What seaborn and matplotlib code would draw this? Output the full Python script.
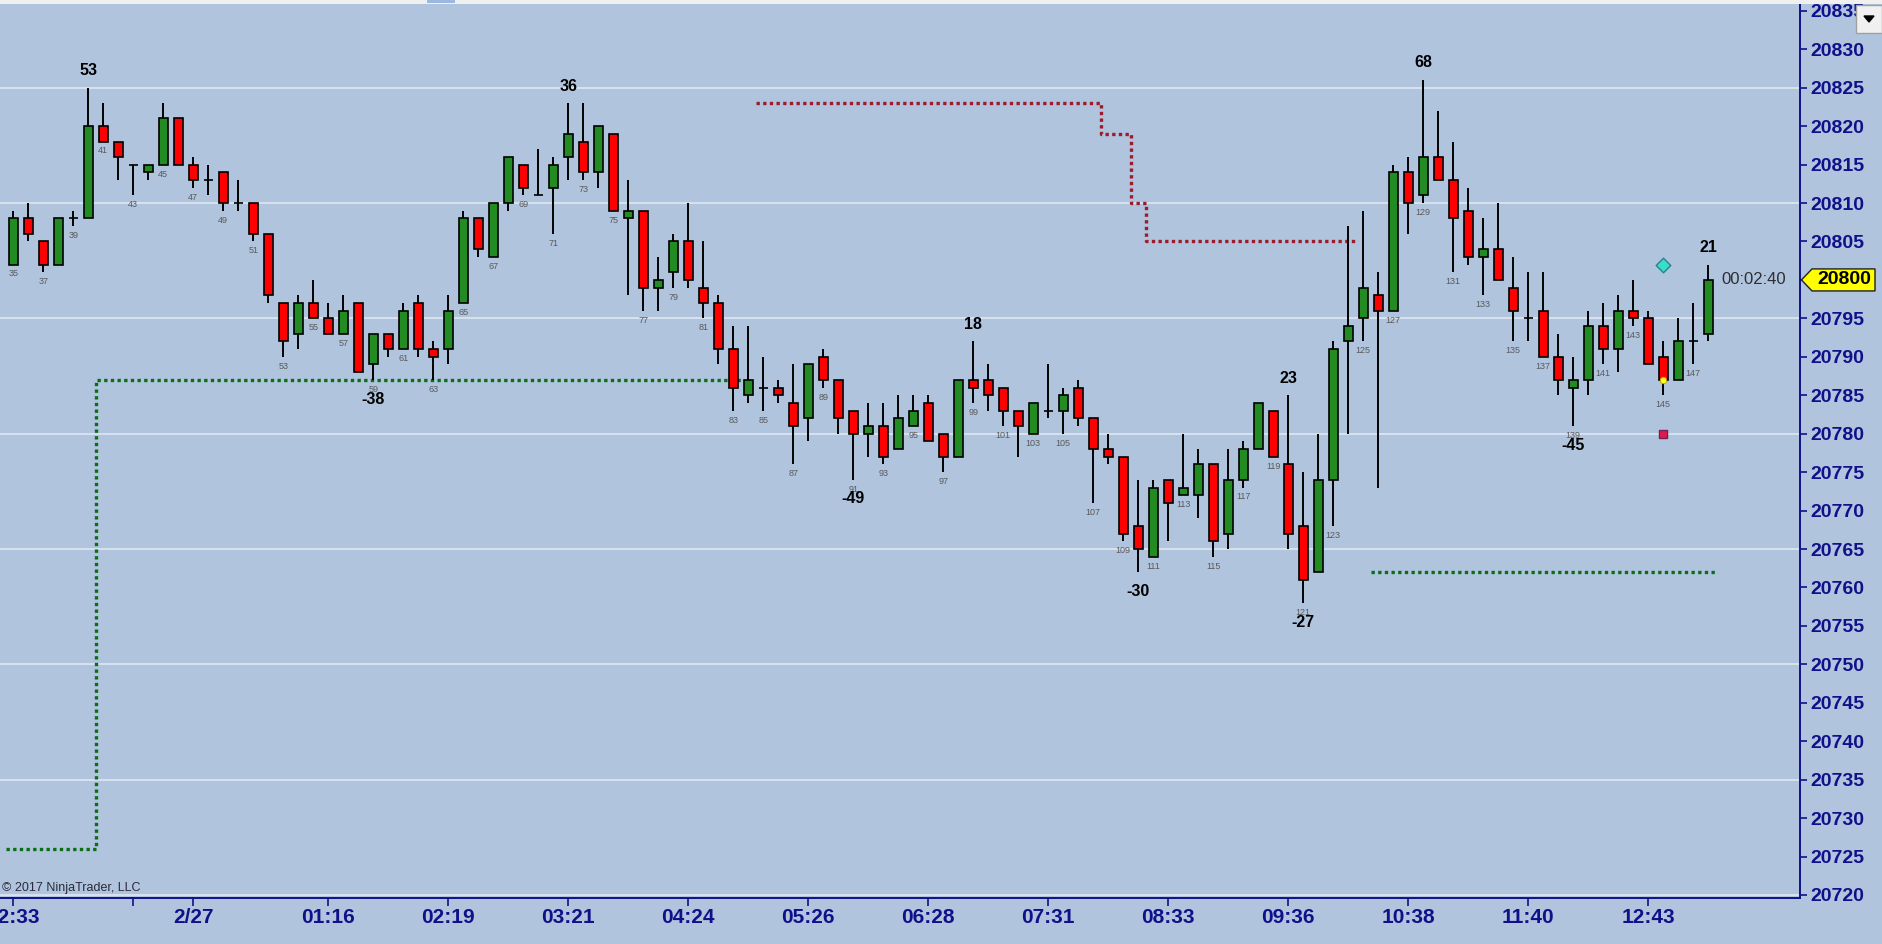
import numpy as np
import pandas as pd
import matplotlib
matplotlib.use("Agg")
import matplotlib.pyplot as plt
import seaborn as sns
from matplotlib.patches import Polygon, Rectangle
from matplotlib.transforms import blended_transform_factory

# ---------------- data ----------------
bar_start = 35
opens = [20802, 20808, 20805, 20802, 20808, 20808, 20820, 20818, 20815, 20814,
         20815, 20821, 20815, 20813, 20814, 20810, 20810, 20806, 20797, 20793,
         20797, 20795, 20793, 20797, 20789, 20793, 20791, 20797, 20791, 20791,
         20797, 20808, 20803, 20810, 20815, 20811, 20812, 20816, 20818, 20814,
         20819, 20808, 20809, 20799, 20801, 20805, 20799, 20797, 20791, 20785,
         20786, 20786, 20784, 20782, 20790, 20787, 20783, 20780, 20781, 20778,
         20781, 20784, 20780, 20777, 20787, 20787, 20786, 20783, 20780, 20783,
         20783, 20786, 20782, 20778, 20777, 20768, 20764, 20774, 20772, 20772,
         20776, 20767, 20774, 20778, 20783, 20776, 20768, 20762, 20774, 20792,
         20795, 20798, 20796, 20814, 20811, 20816, 20813, 20809, 20803, 20804,
         20799, 20795, 20796, 20790, 20786, 20787, 20794, 20791, 20796, 20795,
         20790, 20787, 20792, 20793]
highs = [20809, 20810, 20805, 20808, 20809, 20825, 20823, 20818, 20815, 20815,
         20823, 20821, 20816, 20815, 20814, 20813, 20810, 20806, 20797, 20798,
         20800, 20797, 20798, 20797, 20793, 20793, 20797, 20798, 20792, 20798,
         20809, 20808, 20810, 20816, 20815, 20817, 20816, 20823, 20823, 20820,
         20819, 20813, 20809, 20803, 20806, 20810, 20805, 20798, 20794, 20794,
         20790, 20787, 20789, 20789, 20791, 20787, 20783, 20784, 20784, 20785,
         20785, 20785, 20780, 20787, 20792, 20789, 20786, 20783, 20784, 20789,
         20786, 20787, 20782, 20780, 20777, 20774, 20774, 20774, 20780, 20778,
         20776, 20778, 20779, 20784, 20783, 20785, 20775, 20780, 20792, 20807,
         20809, 20801, 20815, 20816, 20826, 20822, 20818, 20812, 20808, 20810,
         20803, 20801, 20801, 20793, 20790, 20796, 20797, 20798, 20800, 20796,
         20792, 20795, 20797, 20802]
lows = [20802, 20805, 20801, 20802, 20807, 20808, 20818, 20813, 20811, 20813,
        20815, 20815, 20812, 20811, 20809, 20809, 20805, 20797, 20790, 20791,
        20795, 20793, 20793, 20788, 20787, 20790, 20791, 20790, 20787, 20789,
        20797, 20803, 20803, 20809, 20811, 20811, 20806, 20813, 20813, 20812,
        20809, 20798, 20796, 20796, 20799, 20799, 20795, 20789, 20783, 20784,
        20783, 20784, 20776, 20779, 20786, 20780, 20774, 20777, 20776, 20778,
        20781, 20779, 20775, 20777, 20784, 20783, 20781, 20777, 20780, 20782,
        20780, 20781, 20771, 20776, 20766, 20762, 20764, 20766, 20772, 20769,
        20764, 20765, 20773, 20778, 20777, 20765, 20758, 20762, 20768, 20780,
        20792, 20773, 20796, 20806, 20810, 20813, 20801, 20802, 20798, 20800,
        20792, 20792, 20790, 20785, 20781, 20785, 20789, 20788, 20794, 20789,
        20785, 20787, 20789, 20792]
closes = [20808, 20806, 20802, 20808, 20808, 20820, 20818, 20816, 20815, 20815,
          20821, 20815, 20813, 20813, 20810, 20810, 20806, 20798, 20792, 20797,
          20795, 20793, 20796, 20788, 20793, 20791, 20796, 20791, 20790, 20796,
          20808, 20804, 20810, 20816, 20812, 20811, 20815, 20819, 20814, 20820,
          20809, 20809, 20799, 20800, 20805, 20800, 20797, 20791, 20786, 20787,
          20786, 20785, 20781, 20789, 20787, 20782, 20780, 20781, 20777, 20782,
          20783, 20779, 20777, 20787, 20786, 20785, 20783, 20781, 20784, 20783,
          20785, 20782, 20778, 20777, 20767, 20765, 20773, 20771, 20773, 20776,
          20766, 20774, 20778, 20784, 20777, 20767, 20761, 20774, 20791, 20794,
          20799, 20796, 20814, 20810, 20816, 20813, 20808, 20803, 20804, 20800,
          20796, 20795, 20790, 20787, 20787, 20794, 20791, 20796, 20795, 20789,
          20787, 20792, 20792, 20800]

swing_high_bars = [40, 72, 99, 120, 129, 148]
swing_high_labels = ["53", "36", "18", "23", "68", "21"]
swing_low_bars = [59, 91, 110, 121, 139]
swing_low_labels = ["-38", "-49", "-30", "-27", "-45"]

# (first bar, last bar, price level)
support1_segments = [(35, 40, 20726), (41, 83, 20787)]
resistance_segments = [(85, 107, 20823), (108, 109, 20819), (110, 110, 20810), (111, 124, 20805)]
support2_segments = [(126, 148, 20762)]

time_tick_bars = [35, 43, 47, 56, 64, 72, 80, 88, 96, 104, 112, 120, 128, 136, 144]
time_tick_labels = ["22:33", "", "2/27", "01:16", "02:19", "03:21", "04:24", "05:26",
                    "06:28", "07:31", "08:33", "09:36", "10:38", "11:40", "12:43"]

price_ticks = list(range(20720, 20836, 5))

signal_bar = 145
signal_diamond = 20802
signal_dot = 20787
signal_square = 20780
last_price = 20800
timer_text = "00:02:40"
copyright_text = "\u00a9 2017 NinjaTrader, LLC"

# ---------------- style ----------------
sns.set_theme(style="white")
plt.rcParams["font.family"] = ["Liberation Sans", "DejaVu Sans"]

BG = "#B0C4DE"
NAVY = "#10108A"
GREEN = "#228B22"
RED = "#FF0000"

W, H = 1882, 944
fig = plt.figure(figsize=(W / 100, H / 100), dpi=100, facecolor=BG)
ax = fig.add_axes([0, (H - 898) / H, 1800 / W, 894 / H])
ax.set_facecolor(BG)

df = pd.DataFrame({"open": opens, "high": highs, "low": lows, "close": closes})
df["bar"] = np.arange(bar_start, bar_start + len(df))
df["bottom"] = df[["open", "close"]].min(axis=1)
df["height"] = (df["close"] - df["open"]).abs()
df["color"] = np.where(df["close"] >= df["open"], GREEN, RED)

# grid lines
for lv in range(20720, 20826, 15):
    ax.axhline(lv, color="#E4EAF2", lw=1.1, zorder=1)

# support / resistance dotted step lines
def expand(segments):
    bars, levels = [], []
    for b0, b1, lv in segments:
        for b in range(b0, b1 + 1):
            bars.append(b)
            levels.append(lv)
    xs = [b - 0.5 for b in bars] + [bars[-1] + 0.5]
    ys = levels + [levels[-1]]
    return pd.DataFrame({"x": xs, "y": ys})

for segs, col in [(support1_segments, "#0A6E14"), (resistance_segments, "#9E1B2B"),
                  (support2_segments, "#0A6E14")]:
    d = expand(segs)
    sns.lineplot(data=d, x="x", y="y", ax=ax, color=col, lw=2.4, estimator=None,
                 sort=False, drawstyle="steps-post", linestyle=(0, (1, 1)),
                 dash_capstyle="butt", zorder=2, legend=False)

# candles
ax.vlines(df["bar"], df["low"], df["high"], color="black", lw=1.4, zorder=3)
ax.bar(df["bar"], df["height"], bottom=df["bottom"], width=0.58, color=df["color"],
       edgecolor="black", linewidth=1.2, zorder=4)

# bar numbers
for _, r in df.iterrows():
    if int(r["bar"]) % 2 == 1:
        ax.annotate(str(int(r["bar"])), (r["bar"], r["low"]), xytext=(0, -6.8),
                    textcoords="offset points", ha="center", va="center",
                    fontsize=6.5, color="#5A5A5A", zorder=5)

hl = df.set_index("bar")
for b, t in zip(swing_high_bars, swing_high_labels):
    ax.annotate(t, (b, hl.loc[b, "high"]), xytext=(0, 12.3), textcoords="offset points",
                ha="center", va="center", fontsize=11.5, fontweight="bold", color="black", zorder=5)
for b, t in zip(swing_low_bars, swing_low_labels):
    ax.annotate(t, (b, hl.loc[b, "low"]), xytext=(0, -13.8), textcoords="offset points",
                ha="center", va="center", fontsize=11.5, fontweight="bold", color="black", zorder=5)

# signal markers
sns.scatterplot(x=[signal_bar], y=[signal_diamond], marker="D", s=55, color="#3DDCC4",
                edgecolor="#2A7F95", linewidth=1.0, ax=ax, zorder=6, legend=False)
sns.scatterplot(x=[signal_bar], y=[signal_square], marker="s", s=30, color="#E0184E",
                edgecolor="#7A2050", linewidth=1.0, ax=ax, zorder=6, legend=False)
sns.scatterplot(x=[signal_bar], y=[signal_dot], marker="o", s=22, color="#FFFF20",
                edgecolor="#C0A000", linewidth=0.6, ax=ax, zorder=7, legend=False)

# axes limits / ticks
ax.set_xlim(bar_start - 13.3 / 15, bar_start + (1800 - 13.3) / 15)
ax.set_ylim(20720 - 3 / 7.687, 20825 + 83.7 / 7.687)
ax.set_xlabel("")
ax.set_ylabel("")
ax.set_yticks(price_ticks)
# the last-price tag stands in for the 20800 label
ax.set_yticklabels(["" if p == last_price else str(p) for p in price_ticks])
ax.yaxis.tick_right()
ax.set_xticks(time_tick_bars)
ax.set_xticklabels(time_tick_labels)
ax.tick_params(axis="y", direction="out", length=5, width=1.2, colors=NAVY,
               labelsize=14, pad=2.5, right=True, left=False)
ax.tick_params(axis="x", direction="out", length=5.5, width=1.2, colors=NAVY,
               labelsize=15, pad=1.5, bottom=True)
for lbl in ax.get_yticklabels() + ax.get_xticklabels():
    lbl.set_fontweight("bold")
for s in ["left", "top"]:
    ax.spines[s].set_visible(False)
for s in ["right", "bottom"]:
    ax.spines[s].set_color(NAVY)
    ax.spines[s].set_linewidth(1.4)
ax.grid(False)

# timer and price tag
bt = blended_transform_factory(ax.transAxes, ax.transData)
ax.text(1786 / 1800, last_price, timer_text, transform=bt, ha="right", va="center",
        fontsize=12, color="#2E2E2E", zorder=6)
hh = 11 / 7.687
tag = Polygon([(1.0008, last_price), (1812 / 1800, last_price + hh),
               (1875 / 1800, last_price + hh), (1875 / 1800, last_price - hh),
               (1812 / 1800, last_price - hh)], closed=True, transform=bt,
              facecolor="#FFFF00", edgecolor="#202020", lw=1.0, clip_on=False, zorder=8)
ax.add_patch(tag)
ax.text(1844 / 1800, last_price, f"{last_price}", transform=bt, ha="center", va="center",
        fontsize=14, fontweight="bold", color="black", zorder=9, clip_on=False)

# copyright
ax.text(0.001, 0.004, copyright_text, transform=ax.transAxes, ha="left", va="bottom",
        fontsize=9, color="#2A2A3A", zorder=6)

# window chrome: top strip and dropdown button
fig.patches.append(Rectangle((0, 1 - 4 / H), 1, 4 / H, transform=fig.transFigure,
                             facecolor="#F0F0F0", edgecolor="none", zorder=10))
fig.patches.append(Rectangle((427 / W, 1 - 3 / H), 28 / W, 3 / H, transform=fig.transFigure,
                             facecolor="#9CB8E0", edgecolor="none", zorder=11))
fig.patches.append(Rectangle((1856 / W, 1 - 33 / H), 26 / W, 28 / H, transform=fig.transFigure,
                             facecolor="#F0F0F0", edgecolor="#A0A0A0", lw=1, zorder=10))
fig.patches.append(Polygon([(1864 / W, 1 - 16 / H), (1874 / W, 1 - 16 / H), (1869 / W, 1 - 22 / H)],
                           closed=True, transform=fig.transFigure, facecolor="black",
                           edgecolor="black", zorder=11))

fig.savefig("out.png", dpi=100, facecolor=BG)
